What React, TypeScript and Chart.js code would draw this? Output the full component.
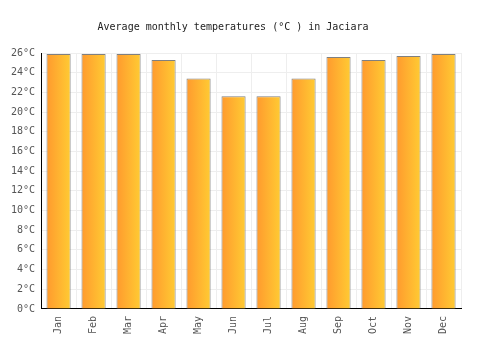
import React, { useEffect, useRef } from "react";
import { Chart, registerables } from "chart.js";

Chart.register(...registerables);

const months = ["Jan", "Feb", "Mar", "Apr", "May", "Jun", "Jul", "Aug", "Sep", "Oct", "Nov", "Dec"];
const temps = [25.9, 25.9, 25.9, 25.3, 23.4, 21.6, 21.6, 23.4, 25.6, 25.3, 25.7, 25.9];
const yTicks = [0, 2, 4, 6, 8, 10, 12, 14, 16, 18, 20, 22, 24, 26];
const title = "Average monthly temperatures (°C ) in Jaciara";

const FONT = "'DejaVu Sans Mono', monospace";

export default function App() {
  const ref = useRef<HTMLCanvasElement | null>(null);
  useEffect(() => {
    document.body.style.margin = "0";
    const canvas = ref.current!;
    const barPct = 0.69;
    const chart = new Chart(canvas, {
      type: "bar",
      data: {
        labels: months,
        datasets: [
          {
            data: temps,
            borderColor: "#808080",
            borderWidth: 1,
            barPercentage: barPct,
            categoryPercentage: 1,
            backgroundColor: (c: any) => {
              const ch = c.chart;
              const xs = ch.scales?.x;
              if (!xs || c.dataIndex === undefined) return "#FFB030";
              const cx = xs.getPixelForValue(c.dataIndex);
              const w = (xs.width / months.length) * barPct;
              if (!isFinite(cx) || !isFinite(w) || w <= 0) return "#FFB030";
              const g = ch.ctx.createLinearGradient(cx - w / 2, 0, cx + w / 2, 0);
              g.addColorStop(0, "#FF9A2E");
              g.addColorStop(1, "#FFCB33");
              return g;
            },
          },
        ],
      },
      options: {
        responsive: false,
        animation: false,
        layout: { padding: { left: 5, right: 39, top: 0, bottom: 9 } },
        plugins: {
          legend: { display: false },
          tooltip: { enabled: false },
          title: {
            display: true,
            text: title,
            color: "#222",
            font: { family: FONT, size: 10, weight: "normal" },
            padding: { top: 21, bottom: 20 },
          },
        },
        scales: {
          x: {
            grid: { color: "#eeeeee", offset: true, drawTicks: false },
            border: { color: "#000", width: 1 },
            ticks: {
              color: "#555",
              font: { family: FONT, size: 10 },
              maxRotation: 90,
              minRotation: 90,
              padding: 7,
            },
          },
          y: {
            min: 0,
            max: 26,
            afterBuildTicks: (axis: any) => {
              axis.ticks = yTicks.map((v) => ({ value: v }));
            },
            grid: { color: "#eeeeee", drawTicks: false },
            border: { color: "#000", width: 1 },
            ticks: {
              color: "#555",
              font: { family: FONT, size: 10 },
              padding: 6,
              callback: (v: any) => v + "°C",
            },
          },
        },
      },
    });
    return () => chart.destroy();
  }, []);
  return (
    <div style={{ width: 500, height: 350 }}>
      <canvas ref={ref} width={500} height={350} />
    </div>
  );
}
